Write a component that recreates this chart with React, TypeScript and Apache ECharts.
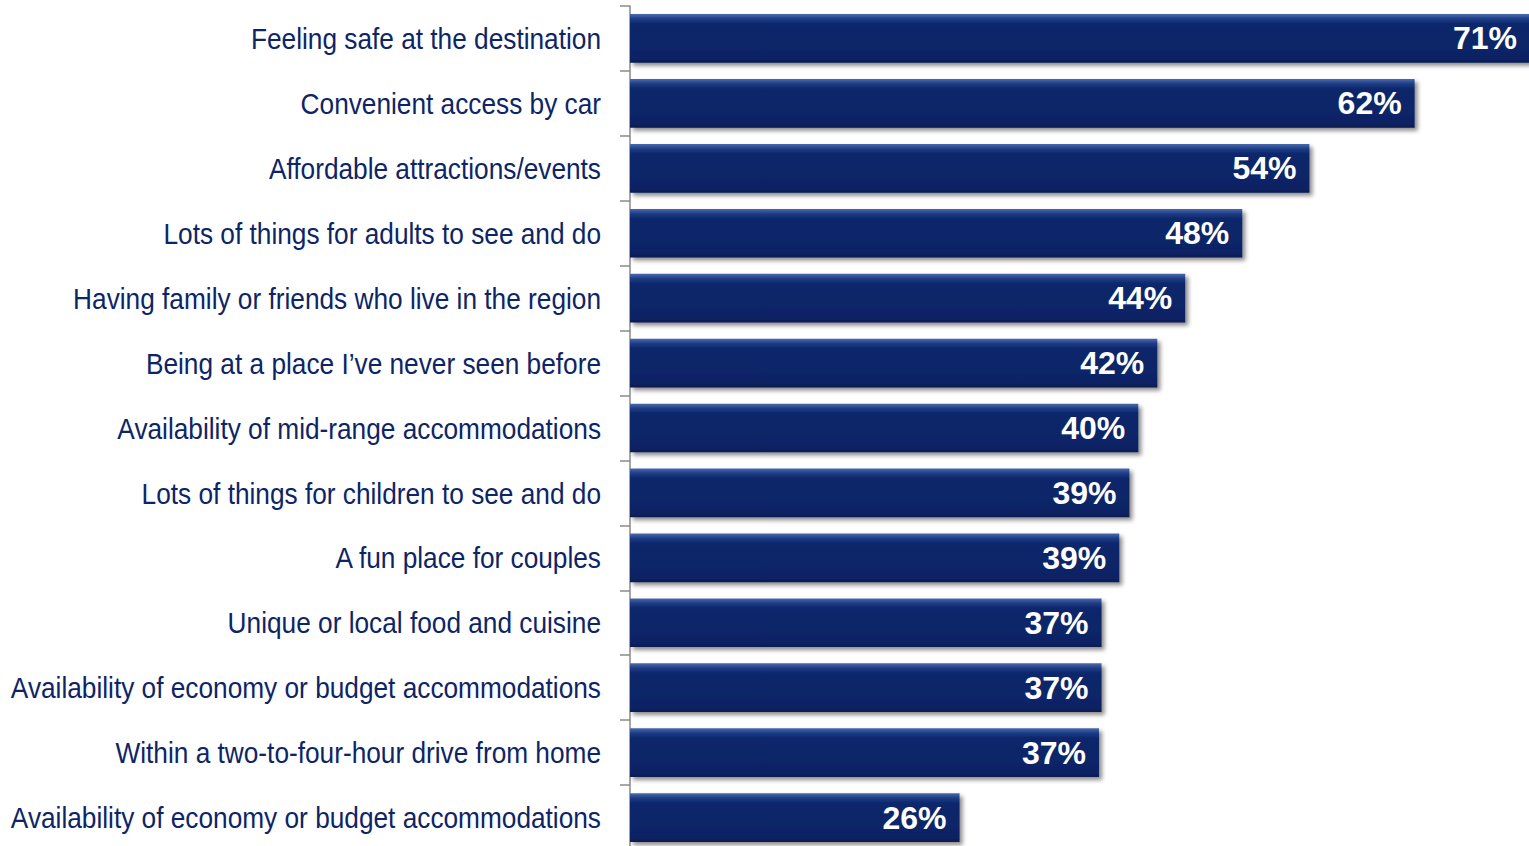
import React, { useEffect, useRef } from "react";
import * as echarts from "echarts";

const categories = [
  "Feeling safe at the destination",
  "Convenient access by car",
  "Affordable attractions/events",
  "Lots of things for adults to see and do",
  "Having family or friends who live in the region",
  "Being at a place I\u2019ve never seen before",
  "Availability of mid-range accommodations",
  "Lots of things for children to see and do",
  "A fun place for couples",
  "Unique or local food and cuisine",
  "Availability of economy or budget accommodations",
  "Within a two-to-four-hour drive from home",
  "Availability of economy or budget accommodations",
];

const values = [71, 61.9, 53.6, 48.3, 43.8, 41.6, 40.1, 39.4, 38.6, 37.2, 37.2, 37.0, 26.0];
const valueLabels = ["71%", "62%", "54%", "48%", "44%", "42%", "40%", "39%", "39%", "37%", "37%", "37%", "26%"];

export default function App() {
  const ref = useRef<HTMLDivElement>(null);
  useEffect(() => {
    if (!ref.current) return;
    const chart = echarts.init(ref.current, null, { renderer: "svg" });
    chart.setOption({
      animation: false,
      backgroundColor: "#ffffff",
      grid: {
        left: 630,
        right: -1,
        top: 6,
        bottom: -4,
        containLabel: false,
        outerBoundsMode: "none",
      },
      xAxis: { type: "value", min: 0, max: 71, show: false },
      yAxis: {
        type: "category",
        inverse: true,
        data: categories,
        axisLine: { show: true, lineStyle: { color: "#8a8a8a", width: 1.5 } },
        axisTick: { show: true, length: 10, lineStyle: { color: "#8a8a8a", width: 1.5 } },
        axisLabel: { show: false },
        splitLine: { show: false },
      },
      series: [
        {
          type: "bar",
          data: values,
          barCategoryGap: "25%",
          itemStyle: {
            color: new echarts.graphic.LinearGradient(0, 0, 0, 1, [
              { offset: 0, color: "#4a6aae" },
              { offset: 0.1, color: "#1e3c85" },
              { offset: 0.2, color: "#0c286c" },
              { offset: 0.8, color: "#0a2466" },
              { offset: 0.92, color: "#0a2262" },
              { offset: 1, color: "#071a4e" },
            ]),
            shadowColor: "rgba(0,0,0,0.45)",
            shadowBlur: 4,
            shadowOffsetX: 3,
            shadowOffsetY: 3,
          },
          label: {
            show: true,
            position: "insideRight",
            distance: 13,
            color: "#ffffff",
            fontSize: 32,
            fontWeight: "bold",
            fontFamily: "'Liberation Sans', Arial, sans-serif",
            formatter: (p: any) => valueLabels[p.dataIndex],
          },
        },
        {
          type: "custom",
          silent: true,
          clip: false,
          data: categories.map((_, i) => [0, i]),
          encode: { x: 0, y: 1 },
          renderItem: (params: any, api: any) => {
            const pt = api.coord([0, api.value(1)]);
            return {
              type: "text",
              x: pt[0] - 29,
              y: pt[1],
              scaleX: 0.875,
              style: {
                text: categories[params.dataIndex],
                fill: "#0d2566",
                fontSize: 30,
                fontFamily: "'Liberation Sans', Arial, sans-serif",
                align: "right",
                verticalAlign: "middle",
              },
            };
          },
        },
      ],
    });
    return () => chart.dispose();
  }, []);
  return (
    <div
      ref={ref}
      style={{ position: "fixed", left: 0, top: 0, width: 1529, height: 846 }}
    />
  );
}
